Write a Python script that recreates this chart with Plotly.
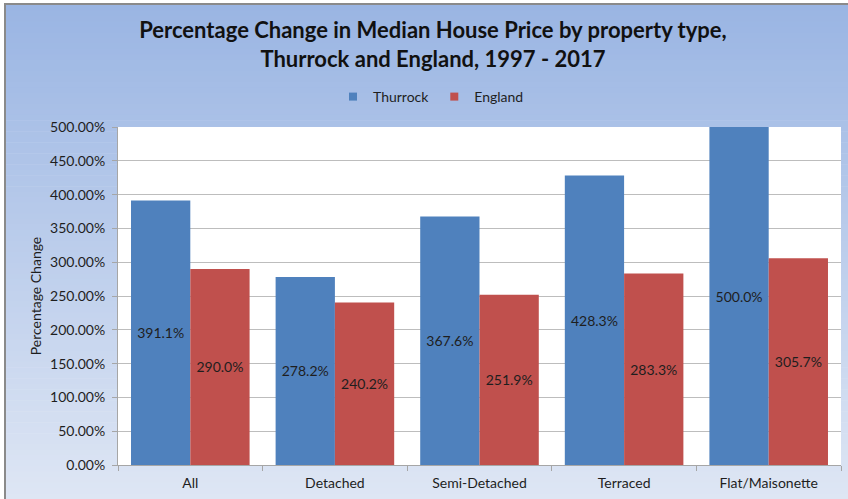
import plotly.graph_objects as go

categories = ["All", "Detached", "Semi-Detached", "Terraced", "Flat/Maisonette"]
thurrock = [391.1, 278.2, 367.6, 428.3, 500.0]
england = [290.0, 240.2, 251.9, 283.3, 305.7]
series_names = ["Thurrock", "England"]
colors = ["#4f81bd", "#c0504d"]
title_text = "Percentage Change in Median House Price by property type,<br>Thurrock and England, 1997 - 2017"
y_title = "Percentage Change"

W, H = 848, 499
L, R, T, B = 118, 7, 127, 34
PW, PH = W - L - R, H - T - B

def px2x(px):
    return (px - L) / PW

def py2y(py):
    return (H - B - py) / PH

FONT = "Lato"

fig = go.Figure()
for name, vals, col in zip(series_names, [thurrock, england], colors):
    fig.add_trace(go.Bar(
        x=categories, y=vals, name=name, marker=dict(color=col, line=dict(width=0)),
        texttemplate="%{y:.1f}%", textposition="inside", insidetextanchor="middle",
        textangle=0, constraintext="none",
        textfont=dict(family=FONT, size=14, color="#1e1e1e"),
        showlegend=False, hoverinfo="skip",
    ))
    fig.add_trace(go.Scatter(
        x=[None], y=[None], mode="markers", name=name,
        marker=dict(symbol="square", size=8, color=col), showlegend=True,
    ))

shapes = []
# gradient background of chart area
top_c = (154, 181, 227)
bot_c = (222, 230, 244)
y0p, y1p = 5, H
n = 90
step = (y1p - y0p) / n
for i in range(n):
    t = i / (n - 1)
    c = tuple(round(a + (b - a) * t) for a, b in zip(top_c, bot_c))
    ya = y0p + i * step
    yb = ya + step + 0.6
    shapes.append(dict(type="rect", xref="paper", yref="paper", layer="below",
                       x0=px2x(6), x1=px2x(W + 2), y0=py2y(yb), y1=py2y(ya),
                       line=dict(width=0), fillcolor="rgb(%d,%d,%d)" % c))
# chart border
shapes.append(dict(type="line", xref="paper", yref="paper", layer="below",
                   x0=px2x(5), x1=px2x(5), y0=py2y(4), y1=py2y(H + 2),
                   line=dict(color="#8a8a8a", width=2)))
shapes.append(dict(type="line", xref="paper", yref="paper", layer="below",
                   x0=px2x(4), x1=px2x(W + 2), y0=py2y(4), y1=py2y(4),
                   line=dict(color="#8a8a8a", width=2)))
# white plot area
shapes.append(dict(type="rect", xref="paper", yref="paper", layer="below",
                   x0=0, x1=1, y0=0, y1=1, line=dict(width=0), fillcolor="white"))

fig.update_layout(
    width=W, height=H,
    margin=dict(l=L, r=R, t=T, b=B, pad=0),
    paper_bgcolor="white", plot_bgcolor="white",
    barmode="group", bargap=0.18, bargroupgap=0,
    font=dict(family=FONT, size=13, color="#1e1e1e"),
    title=dict(text="<b>" + title_text + "</b>", x=433 / W, xref="container", xanchor="center",
               y=1 - 38 / H, yref="container", yanchor="middle",
               font=dict(family=FONT, size=22, color="#111111")),
    legend=dict(orientation="h", x=px2x(431), xanchor="center", y=py2y(97), yanchor="middle",
                font=dict(family=FONT, size=14, color="#1e1e1e"),
                bgcolor="rgba(0,0,0,0)", itemwidth=30, tracegroupgap=0),
    shapes=shapes,
    showlegend=True,
)
fig.update_xaxes(
    type="category", showgrid=False, showline=True, linecolor="#a6a6a6", linewidth=1,
    ticks="outside", tickson="boundaries", ticklen=5, tickcolor="#a6a6a6",
    ticklabelstandoff=5,
    tickfont=dict(family=FONT, size=14, color="#1e1e1e"), fixedrange=True,
)
fig.update_yaxes(
    range=[0, 500], dtick=50, tickformat=".2f", ticksuffix="%",
    showgrid=True, gridcolor="#bdbdbd", gridwidth=1,
    showline=True, linecolor="#a6a6a6", linewidth=1,
    ticks="outside", ticklen=5, tickcolor="#a6a6a6", zeroline=False,
    ticklabelstandoff=4,
    tickfont=dict(family=FONT, size=14, color="#1e1e1e"),
    title=dict(text=y_title, font=dict(family=FONT, size=14, color="#1e1e1e"), standoff=5),
    fixedrange=True,
)

fig.write_html("out.html", config={"displayModeBar": False},
               post_script="document.body.style.margin='0';document.body.style.overflow='hidden';")
